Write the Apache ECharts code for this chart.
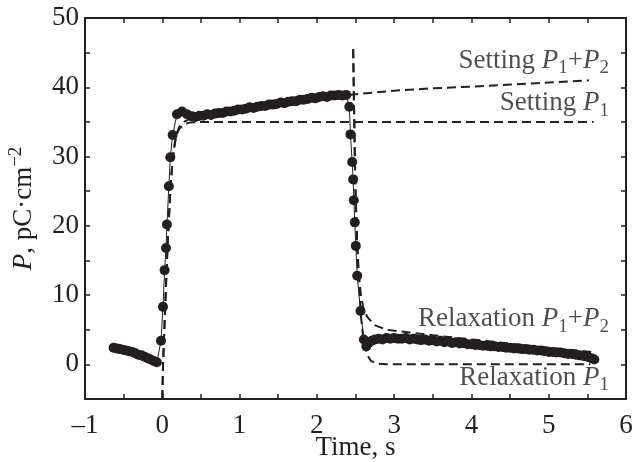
<!DOCTYPE html>
<html>
<head>
<meta charset="utf-8">
<script src="https://cdn.jsdelivr.net/npm/echarts@6/dist/echarts.min.js"></script>
<style>html,body{margin:0;padding:0;background:#fff}#c{width:642px;height:462px}</style>
</head>
<body>
<div id="c"></div>
<script>
// Experimental data (time, s ; P, pC/cm^2)
const expT = [-0.63,-0.59,-0.55,-0.51,-0.47,-0.43,-0.39,-0.35,-0.31,-0.27,-0.23,-0.19,-0.15,-0.11,-0.07,
  -0.017,0.009,0.03,0.048,0.06,0.085,0.104,0.134,0.19,0.255,0.32,0.385,
  0.43,0.48,0.53,0.58,0.63,0.68,0.73,0.78,0.83,0.88,0.93,0.98,1.03,1.08,1.13,1.18,1.23,1.28,1.33,1.38,1.43,1.48,1.53,1.58,1.63,1.68,1.73,1.78,1.83,1.88,1.93,1.98,2.03,2.08,2.13,2.18,2.23,2.28,2.33,2.38,
  2.42,2.435,2.457,2.47,2.478,2.491,2.504,2.522,2.565,2.608,
  2.64,2.67,2.71,2.75,2.80,2.85,2.90,2.95,3.00,3.05,3.10,3.15,3.20,3.25,3.30,3.35,3.40,3.45,3.50,3.55,3.60,3.65,3.70,3.75,3.80,3.85,3.90,3.95,4.00,4.05,4.10,4.15,4.20,4.25,4.30,4.35,4.40,4.45,4.50,4.55,4.60,4.65,4.70,4.75,4.80,4.85,4.90,4.95,5.00,5.05,5.10,5.15,5.20,5.25,5.30,5.35,5.40,5.45,5.50,5.55,5.59];
const expP = [2.4,2.3,2.2,2.1,2.0,1.9,1.8,1.6,1.4,1.3,1.1,0.9,0.7,0.5,0.3,
  3.4,8.3,13.6,16.8,20.2,25.7,29.9,33.1,36.1,36.5,36.1,35.8,
  35.7,35.9,35.9,36.1,36.0,36.2,36.3,36.3,36.5,36.5,36.6,36.8,36.8,36.9,37.1,37.0,37.2,37.3,37.3,37.5,37.5,37.6,37.8,37.7,37.9,38.0,38.0,38.2,38.2,38.3,38.5,38.4,38.6,38.7,38.6,38.8,38.8,38.9,38.8,38.9,
  37.2,33.2,29.2,26.7,23.7,20.5,17.1,12.8,7.7,3.6,
  2.6,3.1,3.4,3.6,3.7,3.6,3.8,3.7,3.8,3.7,3.7,3.8,3.6,3.7,3.6,3.5,3.6,3.4,3.5,3.3,3.4,3.2,3.3,3.1,3.2,3.0,3.1,2.9,2.9,2.8,2.8,2.7,2.7,2.6,2.6,2.5,2.5,2.4,2.4,2.3,2.3,2.2,2.2,2.1,2.1,2.0,2.0,1.9,1.8,1.8,1.7,1.7,1.6,1.5,1.5,1.4,1.3,1.2,1.1,0.9,0.7];

// Fitted curves (dashed)
const setP1T  = [0.0,0.01,0.03,0.05,0.07,0.09,0.11,0.13,0.15,0.18,0.22,0.28,0.35,0.5,5.58];
const setP1P  = [-5,0,6,12,17.5,22,26,29,31,33,34,34.6,34.9,35.0,35.0];
const setP12T = [0.0,0.01,0.03,0.05,0.07,0.09,0.11,0.13,0.15,0.18,0.22,0.28,0.35,0.5,1.0,1.5,2.0,2.47,3.0,3.5,4.0,4.5,5.0,5.52];
const setP12P = [-5,0,6,12,17.5,22,26,29,31,33.2,34.3,35.0,35.4,35.9,36.7,37.5,38.2,38.95,39.5,39.85,40.1,40.4,40.7,41.0];
const relP12T = [2.47,2.48,2.49,2.50,2.52,2.54,2.57,2.60,2.65,2.74,2.90,3.20,3.50,4.00,4.50,5.00,5.55];
const relP12P = [45.5,38,31,25,18,13.5,10,8.2,6.9,5.7,5.0,4.6,4.2,3.6,3.0,2.4,1.8];
const relP1T  = [2.47,2.48,2.49,2.50,2.52,2.54,2.57,2.60,2.65,2.70,2.78,2.90,5.54];
const relP1P  = [45.5,38,31,25,18,12.5,7,3.8,1.4,0.5,0.1,0,0];

// Curve annotations: key, time, P (anchor at right end of text)
const noteKeys = ['setP12','setP1','relP12','relP1'];
const noteT = [5.78,5.78,5.78,5.78];
const noteP = [43.8,37.7,6.5,-1.9];

const xTicks = [-1,0,1,2,3,4,5,6];
const yTicks = [0,10,20,30,40,50];

const INK = '#231f20';
const FONT = 'Liberation Serif';
const FS = 27;
const zip = (a,b) => a.map((v,i)=>[v,b[i]]);

const richBase = {
  n:{fontFamily:FONT,fontSize:FS,color:INK,lineHeight:34},
  i:{fontFamily:FONT,fontSize:FS,fontStyle:'italic',color:INK,lineHeight:34},
  sub:{fontFamily:FONT,fontSize:19,color:INK,lineHeight:19,verticalAlign:'bottom'},
  sup:{fontFamily:FONT,fontSize:19,color:INK,lineHeight:19,verticalAlign:'top'}
};
const noteText = {
  setP12:'{n|Setting }{i|P}{sub|1}{n|+}{i|P}{sub|2}',
  setP1:'{n|Setting }{i|P}{sub|1}',
  relP12:'{n|Relaxation }{i|P}{sub|1}{n|+}{i|P}{sub|2}',
  relP1:'{n|Relaxation }{i|P}{sub|1}'
};

const fmtX = v => xTicks.indexOf(v) >= 0 ? (v < 0 ? '\u2013' + Math.abs(v) : String(v)) : '';
const fmtY = v => yTicks.indexOf(v) >= 0 ? String(v) : '';

const axisCommon = {
  type:'value',
  axisLine:{show:true,onZero:false,lineStyle:{color:INK,width:2}},
  axisTick:{show:true,inside:true,length:5,lineStyle:{color:INK,width:1.5}},
  splitLine:{show:false}
};

const dashStyle = {color:INK,width:2,type:[9,5]};
function dashed(t,p){
  return {type:'line',data:zip(t,p),showSymbol:false,symbol:'none',lineStyle:dashStyle,z:3,silent:true};
}

const chart = echarts.init(document.getElementById('c'),null,{renderer:'canvas'});
chart.setOption({
  animation:false,
  backgroundColor:'#fff',
  grid:{left:85,right:16,top:18,bottom:63,containLabel:false,outerBoundsMode:'none'},
  xAxis:[
    Object.assign({},axisCommon,{min:-1,max:6,interval:0.5,position:'bottom',
      axisLabel:{formatter:fmtX,fontFamily:FONT,fontSize:FS,color:INK,margin:13},
      name:'Time, s',nameLocation:'middle',nameGap:35,nameMoveOverlap:false,
      nameTextStyle:{fontFamily:FONT,fontSize:FS,color:INK}}),
    Object.assign({},axisCommon,{min:-1,max:6,interval:0.5,position:'top',axisLabel:{show:false}})
  ],
  yAxis:[
    Object.assign({},axisCommon,{min:-5,max:50,interval:5,position:'left',
      axisLabel:{formatter:fmtY,fontFamily:FONT,fontSize:FS,color:INK,margin:6},
      name:'{i|P}{n|, pC\u00b7cm}{sup|\u22122}',nameLocation:'middle',nameGap:44,nameMoveOverlap:false,
      nameTextStyle:{rich:richBase}}),
    Object.assign({},axisCommon,{min:-5,max:50,interval:5,position:'right',axisLabel:{show:false}})
  ],
  series:[
    dashed(setP1T,setP1P),
    dashed(setP12T,setP12P),
    dashed(relP12T,relP12P),
    dashed(relP1T,relP1P),
    {type:'line',data:zip(expT,expP),symbol:'circle',symbolSize:10,showAllSymbol:true,
      itemStyle:{color:INK},lineStyle:{color:INK,width:1},z:4,silent:true},
    {type:'scatter',symbolSize:0,z:5,silent:true,
      data:noteKeys.map((k,i)=>({value:[noteT[i],noteP[i]],name:k})),
      label:{show:true,position:'left',distance:0,
        formatter:p=>noteText[p.name],rich:richBase}}
  ]
});
</script>
</body>
</html>
